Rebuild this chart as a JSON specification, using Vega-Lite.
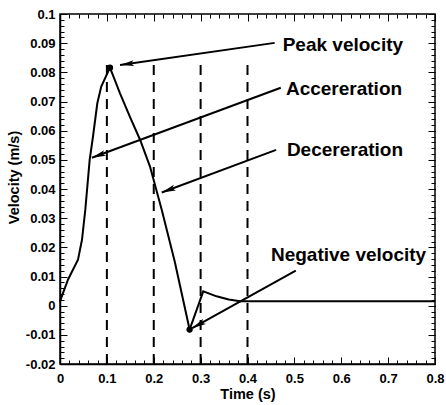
{
  "$schema": "https://vega.github.io/schema/vega-lite/v6.json",
  "width": 375,
  "height": 350,
  "autosize": "none",
  "padding": {"left": 60, "top": 14, "right": 11, "bottom": 41},
  "config": {
    "view": {"stroke": "black", "strokeWidth": 1.5},
    "axis": {
      "domainColor": "black", "domainWidth": 1.5,
      "labelColor": "black", "titleColor": "black",
      "labelFont": "Liberation Sans", "titleFont": "Liberation Sans",
      "labelFontWeight": "bold", "titleFontWeight": "bold",
      "labelFontSize": 13, "titleFontSize": 14.5,
      "grid": false, "labelFlush": false, "labelOverlap": false, "zindex": 1
    }
  },
  "resolve": {"axis": {"x": "independent", "y": "independent"}},
  "layer": [
    {
      "data": {"values": [
        {"t": 0, "v": 0.0015},
        {"t": 0.0064, "v": 0.0043},
        {"t": 0.017, "v": 0.0089},
        {"t": 0.0241, "v": 0.0112},
        {"t": 0.0384, "v": 0.0158},
        {"t": 0.0469, "v": 0.0226},
        {"t": 0.054, "v": 0.0329},
        {"t": 0.0633, "v": 0.05},
        {"t": 0.0704, "v": 0.058},
        {"t": 0.0796, "v": 0.0694},
        {"t": 0.088, "v": 0.0751},
        {"t": 0.1066, "v": 0.0816},
        {"t": 0.128, "v": 0.0728},
        {"t": 0.149, "v": 0.0648},
        {"t": 0.171, "v": 0.0568},
        {"t": 0.192, "v": 0.0477},
        {"t": 0.217, "v": 0.0329},
        {"t": 0.245, "v": 0.015},
        {"t": 0.2765, "v": -0.0082},
        {"t": 0.3056, "v": 0.0049},
        {"t": 0.334, "v": 0.0032},
        {"t": 0.36, "v": 0.0021},
        {"t": 0.384, "v": 0.0015},
        {"t": 0.8, "v": 0.0015}
      ]},
      "mark": {"type": "line", "color": "black", "strokeWidth": 2},
      "encoding": {
        "x": {"field": "t", "type": "quantitative",
          "scale": {"domain": [0, 0.8], "nice": false, "zero": false},
          "axis": {"orient": "bottom", "values": [0, 0.1, 0.2, 0.3, 0.4, 0.5, 0.6, 0.7, 0.8],
            "ticks": false, "labelPadding": 8, "labelExpr": "'' + datum.value",
            "title": "Time (s)", "titlePadding": 2}},
        "y": {"field": "v", "type": "quantitative",
          "scale": {"domain": [-0.02, 0.1], "nice": false, "zero": false},
          "axis": {"orient": "left", "values": [-0.02, -0.01, 0, 0.01, 0.02, 0.03, 0.04, 0.05, 0.06, 0.07, 0.08, 0.09, 0.1],
            "ticks": false, "labelPadding": 5, "labelExpr": "'' + datum.value",
            "title": "Velocity (m/s)", "titlePadding": 4, "titleY": 163}}
      }
    },
    {
      "data": {"values": [{"t": 0.1}, {"t": 0.2}, {"t": 0.3}, {"t": 0.4}]},
      "mark": {"type": "rule", "color": "black", "strokeWidth": 2, "strokeDash": [10, 7]},
      "encoding": {
        "x": {"field": "t", "type": "quantitative",
          "scale": {"domain": [0, 0.8], "nice": false, "zero": false},
          "axis": {"orient": "bottom", "values": [0, 0.1, 0.2, 0.3, 0.4, 0.5, 0.6, 0.7, 0.8],
            "ticks": true, "tickColor": "black", "tickWidth": 1, "offset": -7, "tickSize": 7, "labels": false, "domain": false, "title": null}},
        "y": {"datum": -0.02, "type": "quantitative",
          "scale": {"domain": [-0.02, 0.1], "nice": false, "zero": false},
          "axis": {"orient": "left", "values": [-0.02, -0.01, 0, 0.01, 0.02, 0.03, 0.04, 0.05, 0.06, 0.07, 0.08, 0.09, 0.1],
            "ticks": true, "tickColor": "black", "tickWidth": 1, "offset": -7, "tickSize": 7, "labels": false, "domain": false, "title": null}},
        "y2": {"datum": 0.084}
      }
    },
    {
      "data": {"values": [
        {"name": "Peak velocity", "t": 0.458, "v": 0.0901},
        {"name": "Peak velocity", "t": 0.128, "v": 0.0825},
        {"name": "Accereration", "t": 0.471, "v": 0.0747},
        {"name": "Accereration", "t": 0.068, "v": 0.0507},
        {"name": "Decereration", "t": 0.461, "v": 0.0534},
        {"name": "Decereration", "t": 0.217, "v": 0.0388},
        {"name": "Negative velocity", "t": 0.503, "v": 0.012},
        {"name": "Negative velocity", "t": 0.282, "v": -0.0077}
      ]},
      "mark": {"type": "line", "color": "black", "strokeWidth": 2},
      "encoding": {
        "detail": {"field": "name"},
        "x": {"field": "t", "type": "quantitative",
          "scale": {"domain": [0, 0.8], "nice": false, "zero": false},
          "axis": {"orient": "top", "values": [0, 0.1, 0.2, 0.3, 0.4, 0.5, 0.6, 0.7, 0.8],
            "ticks": true, "tickColor": "black", "tickWidth": 1, "offset": -7, "tickSize": 7, "labels": false, "domain": false, "title": null}},
        "y": {"field": "v", "type": "quantitative",
          "scale": {"domain": [-0.02, 0.1], "nice": false, "zero": false},
          "axis": {"orient": "right", "values": [-0.02, -0.01, 0, 0.01, 0.02, 0.03, 0.04, 0.05, 0.06, 0.07, 0.08, 0.09, 0.1],
            "ticks": true, "tickColor": "black", "tickWidth": 1, "offset": -7, "tickSize": 7, "labels": false, "domain": false, "title": null}}
      }
    },
    {
      "data": {"values": [
        {"t": 0.1066, "v": 0.0816},
        {"t": 0.2765, "v": -0.0082}
      ]},
      "mark": {"type": "point", "shape": "circle", "filled": true, "color": "black", "size": 40, "opacity": 1},
      "encoding": {
        "x": {"field": "t", "type": "quantitative",
          "scale": {"domain": [0, 0.8], "nice": false, "zero": false},
          "axis": {"orient": "bottom", "values": [0,0.02,0.04,0.06,0.08,0.1,0.12,0.14,0.16,0.18,0.2,0.22,0.24,0.26,0.28,0.3,0.32,0.34,0.36,0.38,0.4,0.42,0.44,0.46,0.48,0.5,0.52,0.54,0.56,0.58,0.6,0.62,0.64,0.66,0.68,0.7,0.72,0.74,0.76,0.78,0.8],
            "ticks": true, "tickColor": "black", "tickWidth": 1, "offset": -4, "tickSize": 4, "labels": false, "domain": false, "title": null}},
        "y": {"field": "v", "type": "quantitative",
          "scale": {"domain": [-0.02, 0.1], "nice": false, "zero": false},
          "axis": {"orient": "left", "values": [-0.02,-0.018,-0.016,-0.014,-0.012,-0.01,-0.008,-0.006,-0.004,-0.002,0,0.002,0.004,0.006,0.008,0.01,0.012,0.014,0.016,0.018,0.02,0.022,0.024,0.026,0.028,0.03,0.032,0.034,0.036,0.038,0.04,0.042,0.044,0.046,0.048,0.05,0.052,0.054,0.056,0.058,0.06,0.062,0.064,0.066,0.068,0.07,0.072,0.074,0.076,0.078,0.08,0.082,0.084,0.086,0.088,0.09,0.092,0.094,0.096,0.098,0.1],
            "ticks": true, "tickColor": "black", "tickWidth": 1, "offset": -4, "tickSize": 4, "labels": false, "domain": false, "title": null}}
      }
    },
    {
      "data": {"values": [{"t": 0.128, "v": 0.0825}]},
      "mark": {"type": "point", "shape": "M0,0L-2,-0.42L-1.6,0L-2,0.42Z", "filled": true, "color": "black", "size": 196, "opacity": 1, "angle": 171.8},
      "encoding": {
        "x": {"field": "t", "type": "quantitative", "scale": {"domain": [0, 0.8], "nice": false, "zero": false},
          "axis": {"orient": "top", "values": [0,0.02,0.04,0.06,0.08,0.1,0.12,0.14,0.16,0.18,0.2,0.22,0.24,0.26,0.28,0.3,0.32,0.34,0.36,0.38,0.4,0.42,0.44,0.46,0.48,0.5,0.52,0.54,0.56,0.58,0.6,0.62,0.64,0.66,0.68,0.7,0.72,0.74,0.76,0.78,0.8],
            "ticks": true, "tickColor": "black", "tickWidth": 1, "offset": -4, "tickSize": 4, "labels": false, "domain": false, "title": null}},
        "y": {"field": "v", "type": "quantitative", "scale": {"domain": [-0.02, 0.1], "nice": false, "zero": false},
          "axis": {"orient": "right", "values": [-0.02,-0.018,-0.016,-0.014,-0.012,-0.01,-0.008,-0.006,-0.004,-0.002,0,0.002,0.004,0.006,0.008,0.01,0.012,0.014,0.016,0.018,0.02,0.022,0.024,0.026,0.028,0.03,0.032,0.034,0.036,0.038,0.04,0.042,0.044,0.046,0.048,0.05,0.052,0.054,0.056,0.058,0.06,0.062,0.064,0.066,0.068,0.07,0.072,0.074,0.076,0.078,0.08,0.082,0.084,0.086,0.088,0.09,0.092,0.094,0.096,0.098,0.1],
            "ticks": true, "tickColor": "black", "tickWidth": 1, "offset": -4, "tickSize": 4, "labels": false, "domain": false, "title": null}}
      }
    },
    {
      "data": {"values": [{"t": 0.068, "v": 0.0507}]},
      "mark": {"type": "point", "shape": "M0,0L-2,-0.42L-1.6,0L-2,0.42Z", "filled": true, "color": "black", "size": 196, "opacity": 1, "angle": 159.7},
      "encoding": {
        "x": {"field": "t", "type": "quantitative", "scale": {"domain": [0, 0.8], "nice": false, "zero": false}, "axis": null},
        "y": {"field": "v", "type": "quantitative", "scale": {"domain": [-0.02, 0.1], "nice": false, "zero": false}, "axis": null}
      }
    },
    {
      "data": {"values": [{"t": 0.217, "v": 0.0388}]},
      "mark": {"type": "point", "shape": "M0,0L-2,-0.42L-1.6,0L-2,0.42Z", "filled": true, "color": "black", "size": 196, "opacity": 1, "angle": 159.6},
      "encoding": {
        "x": {"field": "t", "type": "quantitative", "scale": {"domain": [0, 0.8], "nice": false, "zero": false}, "axis": null},
        "y": {"field": "v", "type": "quantitative", "scale": {"domain": [-0.02, 0.1], "nice": false, "zero": false}, "axis": null}
      }
    },
    {
      "data": {"values": [{"t": 0.282, "v": -0.0077}]},
      "mark": {"type": "point", "shape": "M0,0L-2,-0.42L-1.6,0L-2,0.42Z", "filled": true, "color": "black", "size": 196, "opacity": 1, "angle": 151.0},
      "encoding": {
        "x": {"field": "t", "type": "quantitative", "scale": {"domain": [0, 0.8], "nice": false, "zero": false}, "axis": null},
        "y": {"field": "v", "type": "quantitative", "scale": {"domain": [-0.02, 0.1], "nice": false, "zero": false}, "axis": null}
      }
    },
    {
      "data": {"values": [
        {"label": "Peak velocity", "t": 0.475, "v": 0.0894},
        {"label": "Accereration", "t": 0.482, "v": 0.0743},
        {"label": "Decereration", "t": 0.484, "v": 0.0534},
        {"label": "Negative velocity", "t": 0.45, "v": 0.0175}
      ]},
      "mark": {"type": "text", "align": "left", "baseline": "middle", "font": "Liberation Sans", "fontWeight": "bold", "fontSize": 19, "color": "black"},
      "encoding": {
        "text": {"field": "label"},
        "x": {"field": "t", "type": "quantitative", "scale": {"domain": [0, 0.8], "nice": false, "zero": false}, "axis": null},
        "y": {"field": "v", "type": "quantitative", "scale": {"domain": [-0.02, 0.1], "nice": false, "zero": false}, "axis": null}
      }
    }
  ]
}
